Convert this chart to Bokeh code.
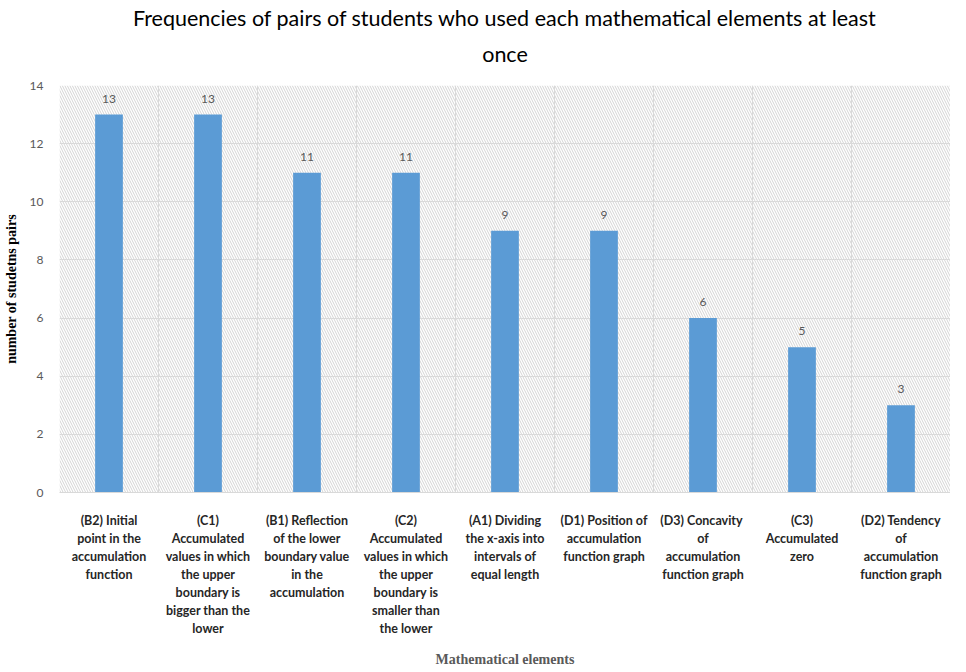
from bokeh.plotting import figure
from bokeh.models import ColumnDataSource, Range1d, FixedTicker, BoxAnnotation, Title
from bokeh.embed import file_html
from bokeh.resources import INLINE

categories = [
    "(B2) Initial\npoint in the\naccumulation\nfunction",
    "(C1)\nAccumulated\nvalues in which\nthe upper\nboundary is\nbigger than the\nlower",
    "(B1) Reflection\nof the lower\nboundary value\nin the\naccumulation",
    "(C2)\nAccumulated\nvalues in which\nthe upper\nboundary is\nsmaller than\nthe lower",
    "(A1) Dividing\nthe x-axis into\nintervals of\nequal length",
    "(D1) Position of\naccumulation\nfunction graph",
    "(D3)  Concavity\nof\naccumulation\nfunction graph",
    "(C3)\nAccumulated\nzero",
    "(D2) Tendency\nof\naccumulation\nfunction graph",
]
values = [13, 13, 11, 11, 9, 9, 6, 5, 3]
y_ticks = [0, 2, 4, 6, 8, 10, 12, 14]
title_text = "Frequencies of pairs of students who used each mathematical elements at least\nonce"
x_title = "Mathematical elements"
y_title = "number of studetns pairs"

xs = [i + 0.5 for i in range(len(values))]
src = ColumnDataSource(dict(x=xs, top=values, lab=[str(v) for v in values]))

p = figure(width=950, height=680, output_backend="svg", toolbar_location=None,
           x_range=Range1d(0, len(values)), y_range=Range1d(0, 14),
           min_border_left=5, min_border_right=0, min_border_bottom=188, title=None)

p.add_layout(Title(text=" ", text_font_size="1px", standoff=12), "above")
p.add_layout(Title(text=title_text, align="center", text_align="center", text_line_height=1.4,
                   text_font="Lato", text_font_size="21.5px",
                   text_font_style="normal", text_color="#000000", standoff=6), "above")

bg = BoxAnnotation(left=0, right=len(values), bottom=0, top=14, level="image",
                   fill_alpha=0, line_alpha=0, hatch_pattern="left_diagonal_line",
                   hatch_color="#d4d4d4", hatch_scale=5, hatch_weight=1)
p.add_layout(bg)

p.vbar(x="x", top="top", width=0.28, source=src, fill_color="#5B9BD5", line_color=None)
p.text(x="x", y="top", text="lab", source=src, text_align="center", text_baseline="bottom",
       y_offset=-12, text_font_size="12px", text_color="#595959", text_font={"value": "Lato"})

p.outline_line_color = None
p.background_fill_color = "white"

p.xgrid.ticker = FixedTicker(ticks=list(range(len(values) + 1)))
p.xgrid.grid_line_color = "#d9d9d9"
p.ygrid.ticker = FixedTicker(ticks=y_ticks)
p.ygrid.grid_line_color = "#d9d9d9"

xa = p.xaxis[0]
xa.ticker = FixedTicker(ticks=xs)
xa.major_label_overrides = {x: c for x, c in zip(xs, categories)}
xa.major_label_text_font = "Lato"
xa.major_label_text_font_style = "bold"
xa.major_label_text_font_size = "12.5px"
xa.major_label_text_color = "#262626"
xa.major_label_standoff = 14
xa.major_tick_line_color = None
xa.minor_tick_line_color = None
xa.axis_line_color = "#d9d9d9"
xa.axis_label = x_title
xa.axis_label_text_font = "Liberation Serif"
xa.axis_label_text_font_style = "bold"
xa.axis_label_text_font_size = "14px"
xa.axis_label_text_color = "#595959"
xa.axis_label_standoff = 13

ya = p.yaxis[0]
ya.ticker = FixedTicker(ticks=y_ticks)
ya.major_label_text_font = "Lato"
ya.major_label_text_font_size = "12px"
ya.major_label_text_color = "#595959"
ya.major_label_standoff = 10
ya.major_tick_line_color = None
ya.minor_tick_line_color = None
ya.axis_line_color = None
ya.axis_label = y_title
ya.axis_label_text_font = "Liberation Serif"
ya.axis_label_text_font_style = "bold"
ya.axis_label_text_font_size = "14px"
ya.axis_label_text_color = "#000000"
ya.axis_label_standoff = 8

open("out.html", "w").write(file_html(p, INLINE))
